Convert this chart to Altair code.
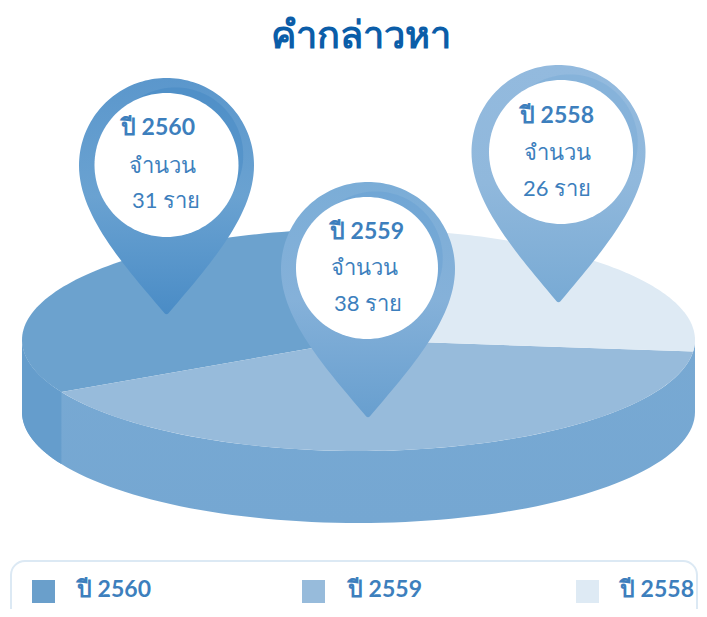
import math
import altair as alt
import pandas as pd

# ---- values
years = ["2560", "2559", "2558"]
counts = [31, 38, 26]
top_colors = ["#6ca2ce", "#97bbdb", "#deeaf4"]
# drawn sweep of each slice on the tilted disc, in degrees, clockwise
slice_start = [152, 6, -77]
slice_end = [283, 152, 6]

# disc geometry
cx, cy, rx, ry, depth = 358.5, 340, 336.5, 111, 72

# pins: head centre x, y, outer radius, tip y, white circle x, y, r
pin_years = ["2560", "2558", "2559"]
pin_x = [166.5, 558.5, 368]
pin_y = [165.5, 152, 269]
pin_r = [87.5, 87, 87]
pin_tip = [315, 303, 418]
hole_x = [166.5, 561, 367]
hole_y = [165, 152, 268]
hole_r = [72, 72, 71]
pin_stops = {
    "2560": ["#5b97cc", "#6aa2d1", "#4a8cc6"],
    "2558": ["#93bade", "#90b8dc", "#78aad4"],
    "2559": ["#7badd7", "#85b1d9", "#689fcf"],
}
crescent_color = {"2560": "#3a80c0", "2558": "#6fa5d3", "2559": "#5f9ad0"}

# label text
label_text = ["ปี 2560", "จำนวน", "31 ราย", "ปี 2559", "จำนวน", "38 ราย", "ปี 2558", "จำนวน", "26 ราย"]
label_x = [158, 162, 166, 367, 364, 368, 557, 557, 557]
label_y = [128, 166, 201, 232, 268, 304, 116, 153, 189]
label_bold = [True, False, False, True, False, False, True, False, False]

legend_text = ["ปี 2560", "ปี 2559", "ปี 2558"]
legend_sq_x = [43.5, 313.5, 587.5]
legend_sq_y = [591.5, 591.5, 591.5]
legend_tx = [114, 385, 657]
legend_ty = [590, 590, 590]

title_text = ["คำกล่าวหา"]
title_x = [361]
title_y = [37]

WIDTH, HEIGHT = 691, 601
FONT = "Lato"
TEXT_BLUE = "#3d7fbd"


def feature(ring):
    ring = [[round(a, 2), round(b, 2)] for a, b in ring]
    ring.append(ring[0])
    return {"type": "Feature", "properties": {}, "geometry": {"type": "Polygon", "coordinates": [ring]}}


def rim(a, dy=0.0):
    t = math.radians(a)
    return [cx + rx * math.cos(t), cy + ry * math.sin(t) + dy]


def sweep(a0, a1, dy=0.0, n=90):
    return [rim(a0 + (a1 - a0) * i / n, dy) for i in range(n + 1)]


projection = alt.Projection(type="identity", scale=1, translate=[-8, -8])


def shape(ring, fill, opacity=1):
    return alt.Chart(alt.Data(values=[feature(ring)])).mark_geoshape(
        fill=fill, stroke=None, strokeWidth=0, opacity=opacity
    ).project(**projection.to_dict())


def vgrad(stops):
    n = len(stops) - 1
    return alt.Gradient(
        gradient="linear", x1=0, x2=0, y1=0, y2=1,
        stops=[alt.GradientStop(offset=i / n, color=c) for i, c in enumerate(stops)],
    )


def bez(p0, p1, p2, p3, t):
    u = 1 - t
    return [
        u ** 3 * p0[k] + 3 * u * u * t * p1[k] + 3 * u * t * t * p2[k] + t ** 3 * p3[k]
        for k in range(2)
    ]


def pin_ring(x, y, r, tip):
    d = tip - y
    pts = []
    for i in range(91):
        a = math.radians(180 + 180 * i / 90)
        pts.append([x + r * math.cos(a), y + r * math.sin(a)])
    # right flank, a small rounded nose, left flank
    for i in range(1, 31):
        pts.append(bez([x + r, y], [x + r, y + d * 0.33], [x + r * 0.5, y + d * 0.66], [x + 3, tip - 3], i / 30))
    for i in range(1, 6):
        pts.append(bez([x + 3, tip - 3], [x + 1, tip], [x - 1, tip], [x - 3, tip - 3], i / 6))
    for i in range(0, 30):
        pts.append(bez([x - 3, tip - 3], [x - r * 0.5, y + d * 0.66], [x - r, y + d * 0.33], [x - r, y], i / 30))
    return pts


def circle_ring(x, y, r):
    return [[x + r * math.cos(math.radians(i)), y + r * math.sin(math.radians(i))] for i in range(0, 360, 3)]


def crescent(x, y, r, width):
    outer, inner = [], []
    for i in range(0, 61):
        f = i / 60
        a = math.radians(-115 + 135 * f)
        w = width * math.sin(math.pi * f)
        outer.append([x + (r + w) * math.cos(a), y + (r + w) * math.sin(a)])
        inner.append([x + (r - 1) * math.cos(a), y + (r - 1) * math.sin(a)])
    return outer + inner[::-1]


layers = []

# side wall
layers.append(shape(sweep(0, 180) + sweep(180, 0, depth), vgrad(["#78a9d3", "#75a7d2"])))
layers.append(shape(sweep(152, 180) + sweep(180, 152, depth), "#659dcc"))

# top slices
for a0, a1, col in zip(slice_start, slice_end, top_colors):
    layers.append(shape([[cx, cy]] + sweep(a0, a1), col))

# pins
for yr, x, y, r, tip, hx, hy, hr in zip(pin_years, pin_x, pin_y, pin_r, pin_tip, hole_x, hole_y, hole_r):
    layers.append(shape(pin_ring(x, y, r, tip), vgrad(pin_stops[yr])))
    layers.append(shape(crescent(hx, hy, hr, 9), crescent_color[yr], 0.35))
    layers.append(shape(circle_ring(hx, hy, hr), "#ffffff"))

xs = alt.X("x:Q", scale=alt.Scale(domain=[8, 699]), axis=None)
ys = alt.Y("y:Q", scale=alt.Scale(domain=[609, 8]), axis=None)

# legend frame
frame = pd.DataFrame({"x": [11], "x2": [697], "y": [561], "y2": [640]})
layers.append(
    alt.Chart(frame).mark_rect(
        fill="#ffffff", stroke="#dce9f4", strokeWidth=2, cornerRadius=14, clip=True
    ).encode(x=xs, x2="x2:Q", y=ys, y2="y2:Q")
)

# legend swatches
legend_df = pd.DataFrame({"x": legend_sq_x, "y": legend_sq_y, "year": years})
layers.append(
    alt.Chart(legend_df).mark_square(size=529, opacity=1, filled=True).encode(
        x=xs, y=ys,
        color=alt.Color("year:N", scale=alt.Scale(domain=years, range=["#6a9fcb", "#97bbdb", "#deeaf4"]), legend=None),
    )
)
layers.append(
    alt.Chart(pd.DataFrame({"x": legend_tx, "y": legend_ty, "t": legend_text})).mark_text(
        font=FONT, fontSize=23, fontWeight="bold", color=TEXT_BLUE, align="center", baseline="middle"
    ).encode(x=xs, y=ys, text="t:N")
)

# pin labels
labels = pd.DataFrame({"x": label_x, "y": label_y, "t": label_text, "b": label_bold})
for bold, weight in [(True, "bold"), (False, "normal")]:
    layers.append(
        alt.Chart(labels[labels.b == bold]).mark_text(
            font=FONT, fontSize=23 if bold else 22, fontWeight=weight, color=TEXT_BLUE, align="center", baseline="middle"
        ).encode(x=xs, y=ys, text="t:N")
    )

# title
layers.append(
    alt.Chart(pd.DataFrame({"x": title_x, "y": title_y, "t": title_text})).mark_text(
        font=FONT, fontSize=38, fontWeight="bold", color="#0b5da8", align="center", baseline="middle"
    ).encode(x=xs, y=ys, text="t:N")
)

chart = (
    alt.layer(*layers)
    .resolve_scale(color="independent")
    .properties(width=WIDTH, height=HEIGHT, padding=0, autosize=alt.AutoSizeParams(type="none"), background="#ffffff")
    .configure_view(stroke=None)
)

chart.save("out.html", embed_options={"renderer": "svg", "actions": False})
